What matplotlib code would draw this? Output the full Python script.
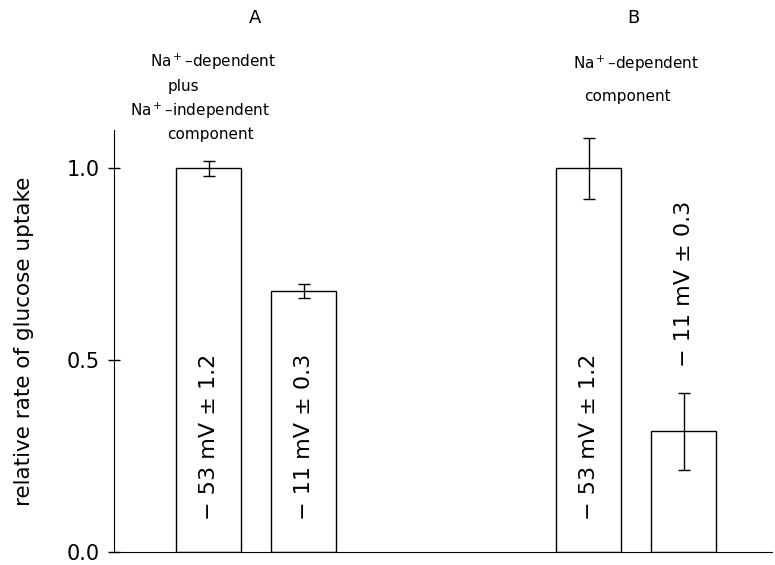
import matplotlib.pyplot as plt
import numpy as np

# values
groups = ["A", "B"]
bar_pos = [0, 1, 4, 5]
rates = [1.00, 0.68, 1.00, 0.315]
errs = [0.02, 0.018, 0.08, 0.10]
bar_labels = ["− 53 mV ± 1.2", "− 11 mV ± 0.3", "− 53 mV ± 1.2", "− 11 mV ± 0.3"]
yticks = [0.0, 0.5, 1.0]

plt.rcParams['font.family'] = ['DejaVu Sans']

fig = plt.figure(figsize=(7.75, 5.65), dpi=100)
ax = fig.add_axes([114/775, 13/565, (772-114)/775, (552-130)/565])

ax.bar(bar_pos, rates, width=0.68, color='white', edgecolor='black', linewidth=1.0)
ax.errorbar(bar_pos, rates, yerr=errs, fmt='none', ecolor='black',
            elinewidth=1.0, capsize=4, capthick=1.0)

ax.set_xlim(-0.995, 5.93)
ax.set_ylim(0, 1.10)
ax.set_yticks(yticks)
ax.set_yticklabels(["0.0", "0.5", "1.0"], fontsize=15)
ax.set_xticks([])
ax.tick_params(axis='y', direction='inout', length=8, width=1, pad=6)
ax.spines['top'].set_visible(False)
ax.spines['right'].set_visible(False)
ax.set_ylabel("relative rate of glucose uptake", fontsize=15.5, labelpad=24)

# labels written in the bars
for i in range(3):
    ax.text(bar_pos[i], 0.30, bar_labels[i], rotation=90, ha='center', va='center',
            fontsize=16)
ax.text(bar_pos[3], 0.70, bar_labels[3], rotation=90, ha='center', va='center',
        fontsize=16)

# panel letters and headings
fig.text(255/775, 1 - 18/565, groups[0], ha='center', va='center', fontsize=13)
fig.text(633/775, 1 - 18/565, groups[1], ha='center', va='center', fontsize=13)

fig.text(213/775, 1 - 62/565, r'Na$^+$–dependent', ha='center', va='center', fontsize=11)
fig.text(183/775, 1 - 87/565, 'plus', ha='center', va='center', fontsize=11)
fig.text(200/775, 1 - 111/565, r'Na$^+$–independent', ha='center', va='center', fontsize=11)
fig.text(210/775, 1 - 135/565, 'component', ha='center', va='center', fontsize=11)

fig.text(636/775, 1 - 64/565, r'Na$^+$–dependent', ha='center', va='center', fontsize=11)
fig.text(627/775, 1 - 97/565, 'component', ha='center', va='center', fontsize=11)

fig.savefig("out.png", dpi=100)
